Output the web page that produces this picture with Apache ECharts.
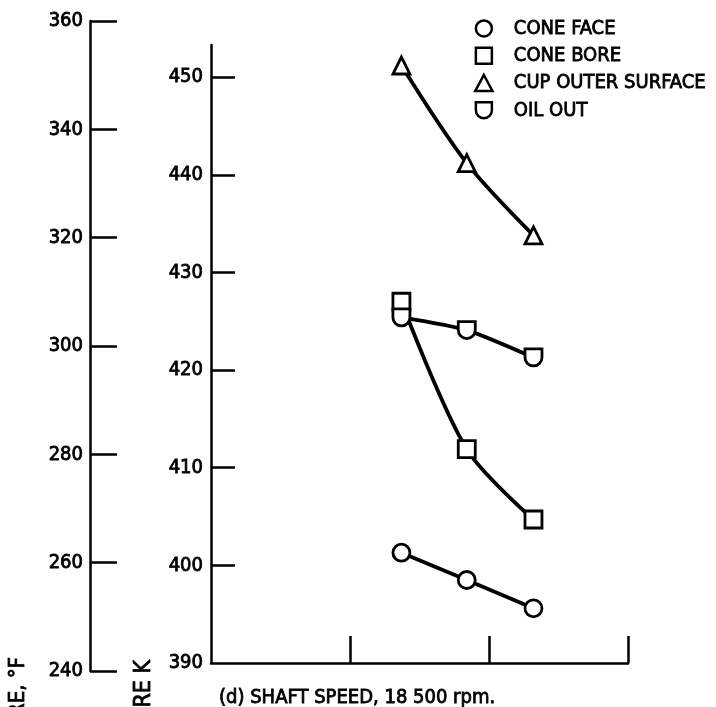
<!DOCTYPE html>
<html>
<head>
<meta charset="utf-8">
<script src="https://cdn.jsdelivr.net/npm/echarts@6/dist/echarts.min.js"></script>
<style>html,body{margin:0;padding:0;background:#fff;}#c{width:716px;height:707px;}</style>
</head>
<body>
<div id="c"></div>
<script>
// ---- data ----
const xValues = [1.37, 1.84, 2.32];
const coneFace = [401.3, 398.5, 395.6];
const coneBore = [427.0, 411.9, 404.7];
const cupOuterSurface = [451.2, 441.2, 433.8];
const oilOut = [425.4, 424.1, 421.3];
const seriesNames = ['CONE FACE', 'CONE BORE', 'CUP OUTER SURFACE', 'OIL OUT'];
const kTicks = [390, 400, 410, 420, 430, 440, 450];
const fTicks = [240, 260, 280, 300, 320, 340, 360];
const xTicks = [0, 1, 2, 3];

const FONT = "'DejaVu Sans Condensed', 'Liberation Sans Narrow', 'Open Sans', sans-serif";
const TXT = { color: '#000', fontSize: 20, fontWeight: 'normal', fontFamily: FONT, textBorderColor: '#000', textBorderWidth: 0.8 };
const ICON = {
  circle: 'path://M0,7 A7,7 0 1 1 14,7 A7,7 0 1 1 0,7 Z',
  square: 'path://M0,0 L14,0 L14,14 L0,14 Z',
  triangle: 'path://M7,0 L14,13 L0,13 Z',
  oil: 'path://M0,0 L14,0 L14,7 A7,7 0 0 1 0,7 Z'
};

function pts(vals) { return vals.map((v, i) => [xValues[i], v]); }

function mk(name, vals, symbol, size, smooth) {
  return {
    name: name, type: 'line', xAxisIndex: 0, yAxisIndex: 0,
    data: pts(vals), symbol: symbol, symbolSize: size, smooth: smooth,
    lineStyle: { color: '#000', width: 3.8 },
    itemStyle: { color: '#fff', borderColor: '#000', borderWidth: 2.8 },
    emphasis: { disabled: true }, z: 3
  };
}

const chart = echarts.init(document.getElementById('c'), null, { renderer: 'canvas' });
chart.setOption({
  animation: false,
  backgroundColor: '#fff',
  grid: [
    { left: 211, right: 88, top: 45, bottom: 44 },
    { left: 90, width: 40, top: 21, bottom: 36 }
  ],
  xAxis: [
    { type: 'value', gridIndex: 0, min: 0, max: 3, interval: 1,
      axisLine: { lineStyle: { color: '#000', width: 2.5 } },
      axisTick: { inside: true, length: 27, lineStyle: { color: '#000', width: 2.5 }, customValues: xTicks.slice(1) },
      axisLabel: { show: false }, splitLine: { show: false } },
    { type: 'value', gridIndex: 1, min: 0, max: 1, show: false }
  ],
  yAxis: [
    { type: 'value', gridIndex: 0, min: 390, max: 453.3, interval: 10,
      axisLine: { show: true, lineStyle: { color: '#000', width: 2.5 } },
      axisTick: { show: true, inside: true, length: 24, lineStyle: { color: '#000', width: 2.5 }, customValues: kTicks.slice(1) },
      axisLabel: Object.assign({ customValues: kTicks, margin: 8 }, TXT),
      splitLine: { show: false } },
    { type: 'value', gridIndex: 1, min: 240, max: 360, interval: 20,
      axisLine: { show: true, lineStyle: { color: '#000', width: 2.5 } },
      axisTick: { show: true, inside: true, length: 27, lineStyle: { color: '#000', width: 2.5 }, customValues: fTicks },
      axisLabel: Object.assign({ customValues: fTicks, margin: 7 }, TXT),
      splitLine: { show: false } }
  ],
  legend: {
    orient: 'vertical', left: 469, top: 13,
    itemWidth: 50, itemHeight: 16, itemGap: 6.5,
    symbolKeepAspect: true, selectedMode: false,
    textStyle: Object.assign({ lineHeight: 18 }, TXT),
    itemStyle: { color: '#fff', borderColor: '#000', borderWidth: 2.5 },
    data: [
      { name: seriesNames[0], icon: ICON.circle },
      { name: seriesNames[1], icon: ICON.square },
      { name: seriesNames[2], icon: ICON.triangle },
      { name: seriesNames[3], icon: ICON.oil }
    ]
  },
  title: {
    text: '(d) SHAFT SPEED, 18 500 rpm.', left: 214, top: 683,
    textStyle: TXT
  },
  graphic: [
    { type: 'text', x: 18, y: 657, rotation: Math.PI / 2,
      style: { text: 'TEMPERATURE, °F', fill: '#000', stroke: '#000', lineWidth: 0.8, font: '22px ' + FONT, textAlign: 'right', textVerticalAlign: 'middle' } },
    { type: 'text', x: 144, y: 660, rotation: Math.PI / 2,
      style: { text: 'TEMPERATURE K', fill: '#000', stroke: '#000', lineWidth: 0.8, font: '23px ' + FONT, textAlign: 'right', textVerticalAlign: 'middle' } }
  ],
  series: [
    mk(seriesNames[0], coneFace, ICON.circle, 17, 0.2),
    mk(seriesNames[1], coneBore, ICON.square, 17, 0.3),
    mk(seriesNames[2], cupOuterSurface, ICON.triangle, 17, 0.3),
    mk(seriesNames[3], oilOut, ICON.oil, 17, 0.2)
  ]
});
</script>
</body>
</html>
